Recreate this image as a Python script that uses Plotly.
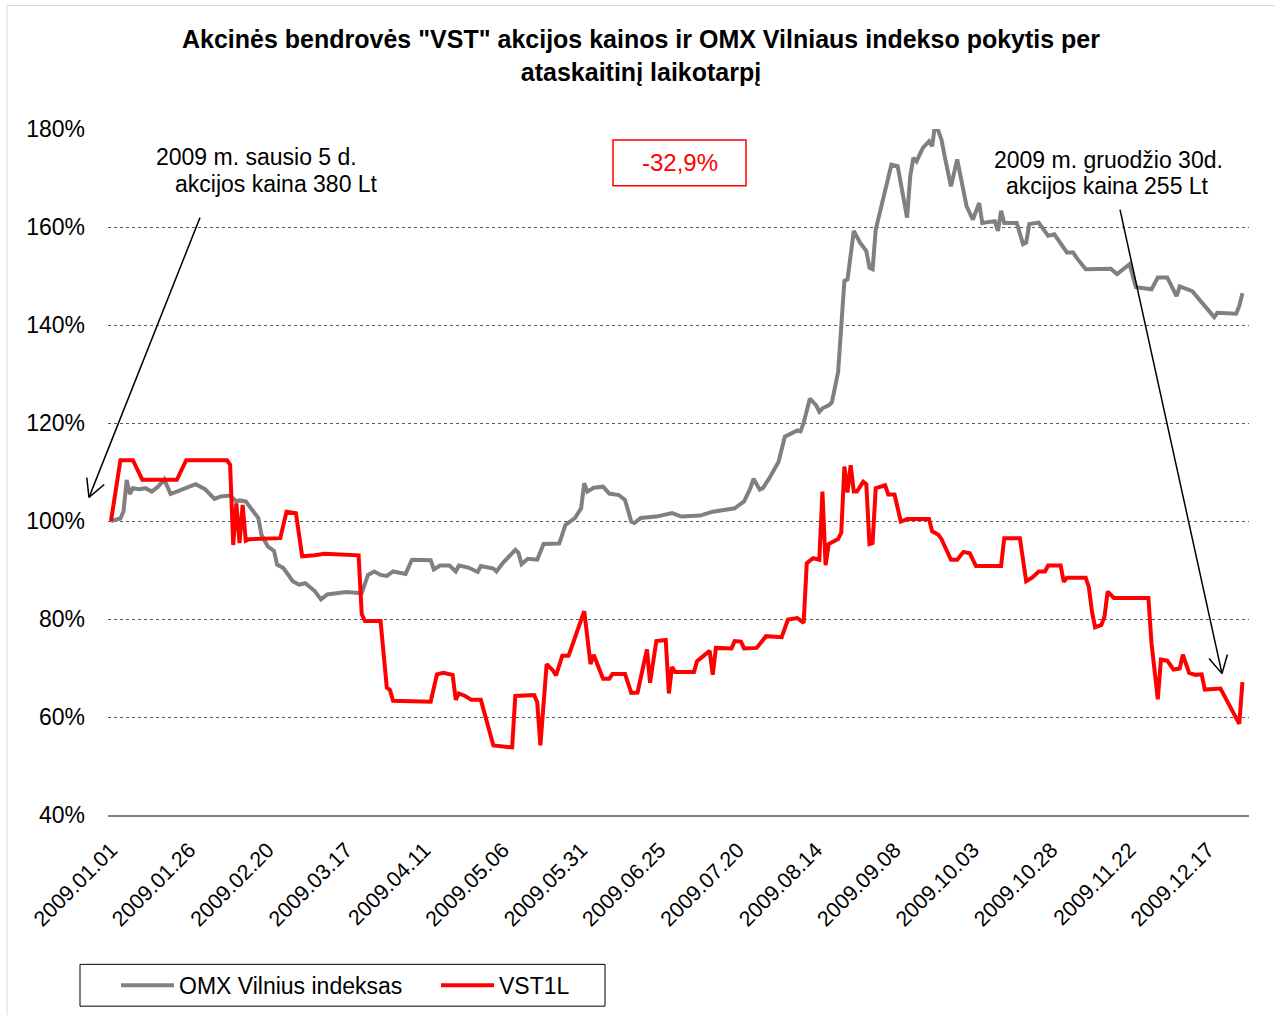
import math
import pandas as pd
import plotly.graph_objects as go

# ---------------- data ----------------
# x values: days since 2009-01-01 ; y values: % of starting level
omx_days = [0, 3, 4, 5, 6, 7, 9, 11, 13, 15, 17, 19, 21, 24, 27, 30, 33, 35, 38, 40,
            41, 43, 45, 47, 48, 50, 52, 53, 55, 58, 60, 62, 65, 67, 69, 72, 75, 79, 80, 82,
            84, 86, 88, 90, 94, 96, 102, 103, 105, 108, 110, 111, 114, 117, 118, 122, 123, 125, 126, 129,
            130, 131, 133, 136, 138, 143, 145, 148, 150, 151, 152, 154, 157, 159, 162, 164, 166, 167, 169, 174,
            179, 182, 188, 192, 199, 202, 204, 205, 207, 208, 210, 213, 215, 217, 219, 220, 221, 223, 225, 226,
            227, 229, 230, 232, 233, 234, 235, 237, 239, 241, 242, 243, 244, 246, 247, 249, 251, 254, 255, 256,
            257, 259, 261, 262, 263, 265, 266, 268, 270, 272, 273, 275, 277, 278, 282, 283, 284, 285, 289, 291,
            292, 293, 296, 299, 301, 305, 307, 308, 311, 319, 321, 325, 327, 332, 334, 337, 340, 341, 345, 352,
            353, 359, 360, 361]
omx_values = [100.0, 100.5, 102.0, 108.4, 105.5, 106.7, 106.5, 106.7, 106.0, 107.0, 108.5, 105.5, 106.0, 106.7, 107.5, 106.5, 104.5, 105.0, 105.2, 104.0,
              104.2, 104.0, 102.3, 100.6, 97.2, 94.8, 93.9, 91.1, 90.4, 87.7, 87.0, 87.3, 85.7, 84.0, 85.0, 85.3, 85.5, 85.3, 85.3, 89.0,
              89.7, 89.0, 88.8, 89.7, 89.2, 92.1, 92.0, 90.1, 90.9, 90.9, 89.7, 90.9, 90.5, 89.6, 90.8, 90.3, 89.7, 91.4, 92.1, 94.1,
              93.5, 91.2, 92.3, 92.1, 95.3, 95.4, 99.2, 100.6, 102.6, 107.7, 106.0, 106.8, 107.0, 105.6, 105.3, 104.3, 99.9, 99.6, 100.6, 100.9,
              101.6, 100.9, 101.1, 101.9, 102.6, 104.0, 106.7, 108.6, 106.4, 106.7, 108.7, 112.1, 117.2, 117.9, 118.5, 118.3, 120.0, 125.0, 123.6, 122.3,
              123.0, 123.6, 124.2, 130.4, 139.9, 149.0, 149.3, 159.2, 156.8, 155.1, 151.7, 151.4, 159.5, 164.9, 167.6, 172.7, 172.4, 161.9, 170.3, 174.1,
              173.4, 176.1, 177.5, 176.5, 181.3, 177.8, 174.4, 168.3, 173.8, 167.6, 164.2, 161.5, 164.9, 160.8, 161.2, 159.2, 163.3, 160.8, 160.8, 156.5,
              156.8, 160.6, 160.9, 158.2, 158.5, 154.8, 154.8, 153.8, 151.4, 151.5, 150.4, 152.4, 147.7, 147.3, 149.7, 149.7, 145.9, 147.9, 146.9, 141.6,
              142.5, 142.3, 143.9, 146.5]

vst_days = [0, 3, 7, 10, 21, 24, 37, 38, 39, 40, 41, 42, 43, 44, 54, 56, 59, 61, 65, 68,
            79, 80, 81, 86, 88, 89, 90, 102, 104, 106, 109, 110, 111, 113, 115, 118, 122, 128, 129, 133,
            135, 136, 137, 139, 141, 142, 144, 146, 151, 153, 154, 157, 159, 160, 164, 166, 168, 171, 172, 174,
            177, 178, 179, 180, 186, 187, 191, 192, 193, 198, 199, 201, 202, 206, 209, 214, 216, 219, 221, 222,
            224, 226, 227, 228, 229, 232, 233, 234, 235, 236, 237, 238, 240, 241, 242, 243, 244, 247, 248, 250,
            252, 254, 261, 262, 263, 264, 265, 268, 270, 272, 274, 276, 284, 285, 290, 292, 294, 296, 298, 299,
            303, 304, 305, 311, 312, 313, 314, 316, 317, 318, 320, 329, 331, 332, 334, 335, 337, 339, 341, 342,
            344, 346, 348, 349, 354, 360, 361]
vst_values = [100.0, 112.4, 112.4, 108.4, 108.4, 112.4, 112.4, 111.5, 95.1, 103.6, 95.5, 103.3, 96.0, 96.3, 96.5, 101.9, 101.6, 92.8, 93.0, 93.3,
              93.0, 81.0, 79.6, 79.6, 66.0, 65.5, 63.3, 63.1, 68.7, 69.0, 68.6, 63.5, 64.8, 64.3, 63.5, 63.5, 54.2, 53.8, 64.3, 64.4,
              64.5, 63.0, 54.2, 70.8, 69.5, 68.5, 72.5, 72.5, 81.6, 70.8, 72.7, 67.8, 67.8, 68.8, 68.8, 64.9, 65.0, 73.8, 67.0, 75.5,
              75.7, 64.8, 70.2, 69.2, 69.2, 71.4, 73.5, 68.6, 74.1, 74.0, 75.5, 75.4, 74.0, 74.1, 76.5, 76.3, 79.9, 80.2, 79.2, 91.4,
              92.4, 92.1, 106.0, 91.0, 95.3, 96.3, 97.6, 111.1, 105.8, 111.4, 106.0, 106.0, 108.0, 107.5, 95.3, 95.5, 106.7, 107.3, 105.4, 105.4,
              99.9, 100.4, 100.4, 97.9, 97.5, 97.2, 96.3, 92.1, 92.1, 93.7, 93.4, 90.8, 90.8, 96.5, 96.5, 87.7, 88.5, 89.7, 89.7, 90.9,
              90.9, 87.6, 88.4, 88.4, 86.5, 81.5, 78.3, 78.8, 80.5, 85.6, 84.3, 84.4, 84.3, 75.0, 63.6, 71.7, 71.5, 69.7, 69.9, 72.7,
              69.0, 68.6, 68.7, 65.6, 65.8, 58.6, 67.1]

series_names = ["OMX Vilnius indeksas", "VST1L"]
tick_dates = ["2009-01-01", "2009-01-26", "2009-02-20", "2009-03-17", "2009-04-11", "2009-05-06",
              "2009-05-31", "2009-06-25", "2009-07-20", "2009-08-14", "2009-09-08", "2009-10-03",
              "2009-10-28", "2009-11-22", "2009-12-17"]
y_ticks = [40, 60, 80, 100, 120, 140, 160, 180]
y_tick_labels = ["40%", "60%", "80%", "100%", "120%", "140%", "160%", "180%"]

title_text = "Akcinės bendrovės \"VST\" akcijos kainos ir OMX Vilniaus indekso pokytis per<br>ataskaitinį laikotarpį"
note_left = ["2009 m. sausio 5 d.", "akcijos kaina 380 Lt"]
note_right = ["2009 m. gruodžio 30d.", "akcijos kaina 255 Lt"]
change_text = "-32,9%"

# ---------------- build ----------------
base = pd.Timestamp("2009-01-01")
omx_x = [base + pd.Timedelta(days=d) for d in omx_days]
vst_x = [base + pd.Timedelta(days=d) for d in vst_days]

W, H = 1275, 1019
L, R, T, B = 108, 1249, 129, 818
FONT = "Liberation Sans, Arial, sans-serif"


def xp(px):
    return (px - L) / (R - L)


def yp(py):
    return (B - py) / (B - T)


fig = go.Figure()
fig.add_trace(go.Scatter(x=omx_x, y=omx_values, mode="lines", name=series_names[0],
                         line=dict(color="#808080", width=4)))
fig.add_trace(go.Scatter(x=vst_x, y=vst_values, mode="lines", name=series_names[1],
                         line=dict(color="#ff0000", width=4)))

shapes = []
annotations = []

# title
annotations.append(dict(xref="paper", yref="paper", x=xp(641), y=yp(55), text="<b>" + title_text + "</b>",
                        showarrow=False, xanchor="center", yanchor="middle",
                        font=dict(family=FONT, size=25, color="black")))

# notes
NS = 23
annotations.append(dict(xref="paper", yref="paper", x=xp(256), y=yp(157), text=note_left[0],
                        showarrow=False, xanchor="center", yanchor="middle",
                        font=dict(family=FONT, size=NS, color="black")))
annotations.append(dict(xref="paper", yref="paper", x=xp(276), y=yp(184), text=note_left[1],
                        showarrow=False, xanchor="center", yanchor="middle",
                        font=dict(family=FONT, size=NS, color="black")))
annotations.append(dict(xref="paper", yref="paper", x=xp(1108), y=yp(160), text=note_right[0],
                        showarrow=False, xanchor="center", yanchor="middle",
                        font=dict(family=FONT, size=NS, color="black")))
annotations.append(dict(xref="paper", yref="paper", x=xp(1107), y=yp(186), text=note_right[1],
                        showarrow=False, xanchor="center", yanchor="middle",
                        font=dict(family=FONT, size=NS, color="black")))

# change box
shapes.append(dict(type="rect", xref="paper", yref="paper", x0=xp(613), x1=xp(746), y0=yp(140), y1=yp(186),
                   line=dict(color="#ff0000", width=1.5), fillcolor="white", layer="above"))
annotations.append(dict(xref="paper", yref="paper", x=xp(680), y=yp(163), text=change_text,
                        showarrow=False, xanchor="center", yanchor="middle",
                        font=dict(family=FONT, size=24, color="#ff0000")))


def arrow(tx, ty, hx, hy, wing=20, ang=28):
    dx, dy = hx - tx, hy - ty
    n = math.hypot(dx, dy)
    ux, uy = -dx / n, -dy / n
    out = [dict(type="line", xref="paper", yref="paper", x0=xp(tx), y0=yp(ty), x1=xp(hx), y1=yp(hy),
                line=dict(color="black", width=1.5), layer="above")]
    for s in (1, -1):
        a = math.radians(ang * s)
        wx = ux * math.cos(a) - uy * math.sin(a)
        wy = ux * math.sin(a) + uy * math.cos(a)
        out.append(dict(type="line", xref="paper", yref="paper", x0=xp(hx), y0=yp(hy),
                        x1=xp(hx + wing * wx), y1=yp(hy + wing * wy),
                        line=dict(color="black", width=1.5), layer="above"))
    return out


shapes += arrow(200, 218, 89, 499)
shapes += arrow(1120, 210, 1222, 676)

# legend box
shapes.append(dict(type="rect", xref="paper", yref="paper", x0=xp(80), x1=xp(605), y0=yp(968), y1=yp(1010),
                   line=dict(color="black", width=1), fillcolor="rgba(0,0,0,0)", layer="above"))
# outer chart border (left/top)
shapes.append(dict(type="line", xref="paper", yref="paper", x0=xp(7), x1=xp(7), y0=yp(5), y1=yp(1019),
                   line=dict(color="#d9d9d9", width=1)))
shapes.append(dict(type="line", xref="paper", yref="paper", x0=xp(7), x1=xp(1275), y0=yp(5), y1=yp(5),
                   line=dict(color="#d9d9d9", width=1)))

x_start = base - pd.Timedelta(hours=23)
x_end = base + pd.Timedelta(days=363.1)

fig.update_layout(
    width=W, height=H,
    margin=dict(l=L, r=W - R, t=T, b=H - B, pad=0),
    paper_bgcolor="white", plot_bgcolor="white",
    font=dict(family=FONT, size=23, color="black"),
    showlegend=True,
    legend=dict(orientation="h", x=xp(116), y=yp(989), xanchor="left", yanchor="middle",
                bgcolor="rgba(0,0,0,0)", borderwidth=0, font=dict(family=FONT, size=23, color="black"),
                itemwidth=53, entrywidth=252, entrywidthmode="pixels"),
    shapes=shapes,
    annotations=annotations,
    xaxis=dict(type="date", range=[x_start, x_end], tickvals=tick_dates, tickformat="%Y.%m.%d",
               tickangle=-45, showgrid=False, zeroline=False, showline=True, linecolor="#808080",
               linewidth=2, ticks="", ticklabelstandoff=12, tickfont=dict(family=FONT, size=21.5)),
    yaxis=dict(range=[40, 180], tickvals=y_ticks, ticktext=y_tick_labels, showgrid=True, gridcolor="#5a5a5a",
               griddash="dot", gridwidth=1, zeroline=False, showline=False, ticks="",
               ticklabelstandoff=22, tickfont=dict(family=FONT, size=23)),
)

fig.write_html("out.html", config={"displayModeBar": False},
               post_script="document.body.style.margin='0px';document.body.style.overflow='hidden';")
